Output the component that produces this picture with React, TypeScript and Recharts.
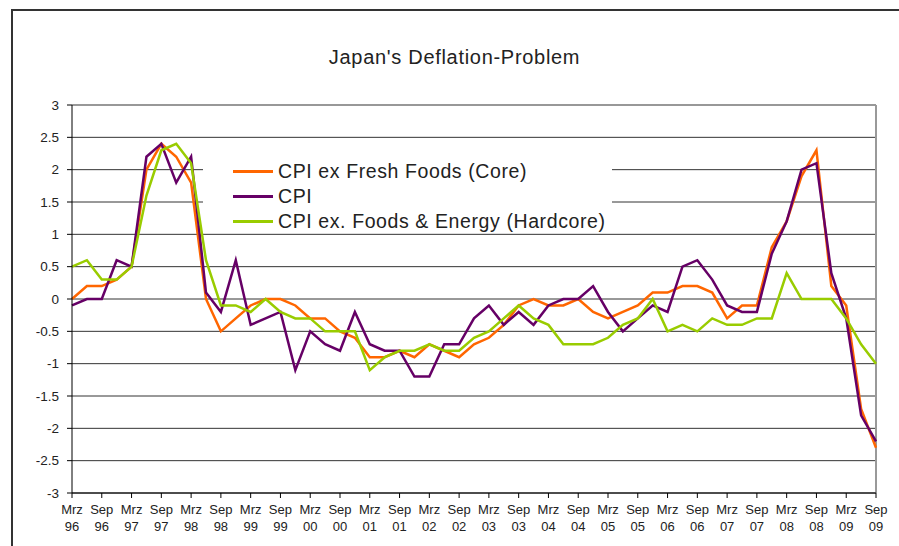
import React from "react";
import {
  LineChart, Line, XAxis, YAxis, CartesianGrid, Legend, ReferenceLine,
} from "recharts";

// quarterly, year-over-year change in %
const quarters = [
  "Mrz 96", "Jun 96", "Sep 96", "Dez 96", "Mrz 97", "Jun 97", "Sep 97", "Dez 97",
  "Mrz 98", "Jun 98", "Sep 98", "Dez 98", "Mrz 99", "Jun 99", "Sep 99", "Dez 99",
  "Mrz 00", "Jun 00", "Sep 00", "Dez 00", "Mrz 01", "Jun 01", "Sep 01", "Dez 01",
  "Mrz 02", "Jun 02", "Sep 02", "Dez 02", "Mrz 03", "Jun 03", "Sep 03", "Dez 03",
  "Mrz 04", "Jun 04", "Sep 04", "Dez 04", "Mrz 05", "Jun 05", "Sep 05", "Dez 05",
  "Mrz 06", "Jun 06", "Sep 06", "Dez 06", "Mrz 07", "Jun 07", "Sep 07", "Dez 07",
  "Mrz 08", "Jun 08", "Sep 08", "Dez 08", "Mrz 09", "Jun 09", "Sep 09",
];

const cpiCore = [
  0, 0.2, 0.2, 0.3, 0.5, 2.0, 2.4, 2.2,
  1.8, 0, -0.5, -0.3, -0.1, 0, 0, -0.1,
  -0.3, -0.3, -0.5, -0.6, -0.9, -0.9, -0.8, -0.9,
  -0.7, -0.8, -0.9, -0.7, -0.6, -0.4, -0.1, 0,
  -0.1, -0.1, 0, -0.2, -0.3, -0.2, -0.1, 0.1,
  0.1, 0.2, 0.2, 0.1, -0.3, -0.1, -0.1, 0.8,
  1.2, 1.9, 2.3, 0.2, -0.1, -1.7, -2.3,
];

const cpi = [
  -0.1, 0, 0, 0.6, 0.5, 2.2, 2.4, 1.8,
  2.2, 0.1, -0.2, 0.6, -0.4, -0.3, -0.2, -1.1,
  -0.5, -0.7, -0.8, -0.2, -0.7, -0.8, -0.8, -1.2,
  -1.2, -0.7, -0.7, -0.3, -0.1, -0.4, -0.2, -0.4,
  -0.1, 0, 0, 0.2, -0.2, -0.5, -0.3, -0.1,
  -0.2, 0.5, 0.6, 0.3, -0.1, -0.2, -0.2, 0.7,
  1.2, 2.0, 2.1, 0.4, -0.3, -1.8, -2.2,
];

const cpiHardcore = [
  0.5, 0.6, 0.3, 0.3, 0.5, 1.6, 2.3, 2.4,
  2.1, 0.6, -0.1, -0.1, -0.2, 0, -0.2, -0.3,
  -0.3, -0.5, -0.5, -0.5, -1.1, -0.9, -0.8, -0.8,
  -0.7, -0.8, -0.8, -0.6, -0.5, -0.3, -0.1, -0.3,
  -0.4, -0.7, -0.7, -0.7, -0.6, -0.4, -0.3, 0,
  -0.5, -0.4, -0.5, -0.3, -0.4, -0.4, -0.3, -0.3,
  0.4, 0, 0, 0, -0.3, -0.7, -1.0,
];

const yTicks = [-3, -2.5, -2, -1.5, -1, -0.5, 0, 0.5, 1, 1.5, 2, 2.5, 3];

const series = [
  { key: "core", name: "CPI ex Fresh Foods (Core)", color: "#FF6600" },
  { key: "cpi", name: "CPI", color: "#660066" },
  { key: "hard", name: "CPI ex. Foods & Energy (Hardcore)", color: "#99CC00" },
];

const data = quarters.map((q, i) => ({
  q,
  core: cpiCore[i],
  cpi: cpi[i],
  hard: cpiHardcore[i],
}));

const FONT = "'Liberation Sans', Arial, Helvetica, sans-serif";

function QuarterTick(props: any) {
  const { x, y, payload } = props;
  const [mon, yr] = String(payload.value).split(" ");
  return (
    <text x={x} y={y} textAnchor="middle" fill="#222" fontSize={13} fontFamily={FONT}>
      <tspan x={x} dy={14}>{mon}</tspan>
      <tspan x={x} dy={16.7}>{yr}</tspan>
    </text>
  );
}

// white box like the Excel legend, it hides the gridlines behind it
function LegendBox() {
  return (
    <div
      style={{
        background: "#fff", width: 409, height: 86, boxSizing: "border-box",
        paddingTop: 12, paddingLeft: 30, whiteSpace: "nowrap",
      }}
    >
      {series.map((s) => (
        <div key={s.key} style={{ display: "flex", alignItems: "center", height: 25 }}>
          <span style={{ width: 40, height: 3, background: s.color, marginRight: 5, flex: "none" }} />
          <span style={{ fontSize: 19.5, letterSpacing: 0.6, color: "#222", fontFamily: FONT }}>
            {s.name}
          </span>
        </div>
      ))}
    </div>
  );
}

export default function App() {
  return (
    <div style={{ position: "relative", width: 899, height: 546, background: "#fff", overflow: "hidden" }}>
      <style>{"body{margin:0}"}</style>
      {/* chart frame, only top and left edge are inside the picture */}
      <div
        style={{
          position: "absolute", left: 11, top: 9, width: 900, height: 560,
          borderTop: "2px solid #333", borderLeft: "2px solid #333",
        }}
      />
      <div
        style={{
          position: "absolute", left: 304.5, top: 45, width: 300, height: 24,
          lineHeight: "24px", textAlign: "center", fontSize: 20, letterSpacing: 0.7,
          color: "#222", fontFamily: FONT,
        }}
      >
        Japan's Deflation-Problem
      </div>
      <div style={{ position: "absolute", left: 0, top: 0 }}>
        <LineChart
          width={899}
          height={546}
          data={data}
          margin={{ top: 105, right: 23, bottom: 0, left: 0 }}
        >
          <CartesianGrid vertical={false} stroke="#333" strokeWidth={1} />
          <XAxis
            dataKey="q"
            interval={1}
            tick={<QuarterTick />}
            tickSize={5}
            tickMargin={2}
            height={53}
            axisLine={{ stroke: "#000" }}
            tickLine={{ stroke: "#000" }}
          />
          <YAxis
            domain={[-3, 3]}
            ticks={yTicks}
            width={72}
            tickSize={5}
            tickMargin={8}
            tick={{ fontSize: 13.5, fill: "#222", fontFamily: FONT }}
            axisLine={{ stroke: "#000" }}
            tickLine={{ stroke: "#000" }}
          />
          <ReferenceLine y={3} stroke="#999" strokeWidth={1.5} />
          <ReferenceLine x="Sep 09" stroke="#999" strokeWidth={2} />
          <Legend
            layout="horizontal"
            verticalAlign="middle"
            align="center"
            width={409}
            height={86}
            content={() => <LegendBox />}
            wrapperStyle={{ left: 203, top: 147, width: 409, height: 86, margin: 0 }}
          />
          {series.map((s) => (
            <Line
              key={s.key}
              type="linear"
              dataKey={s.key}
              name={s.name}
              stroke={s.color}
              strokeWidth={2.5}
              dot={false}
              activeDot={false}
              isAnimationActive={false}
            />
          ))}
        </LineChart>
      </div>
    </div>
  );
}
